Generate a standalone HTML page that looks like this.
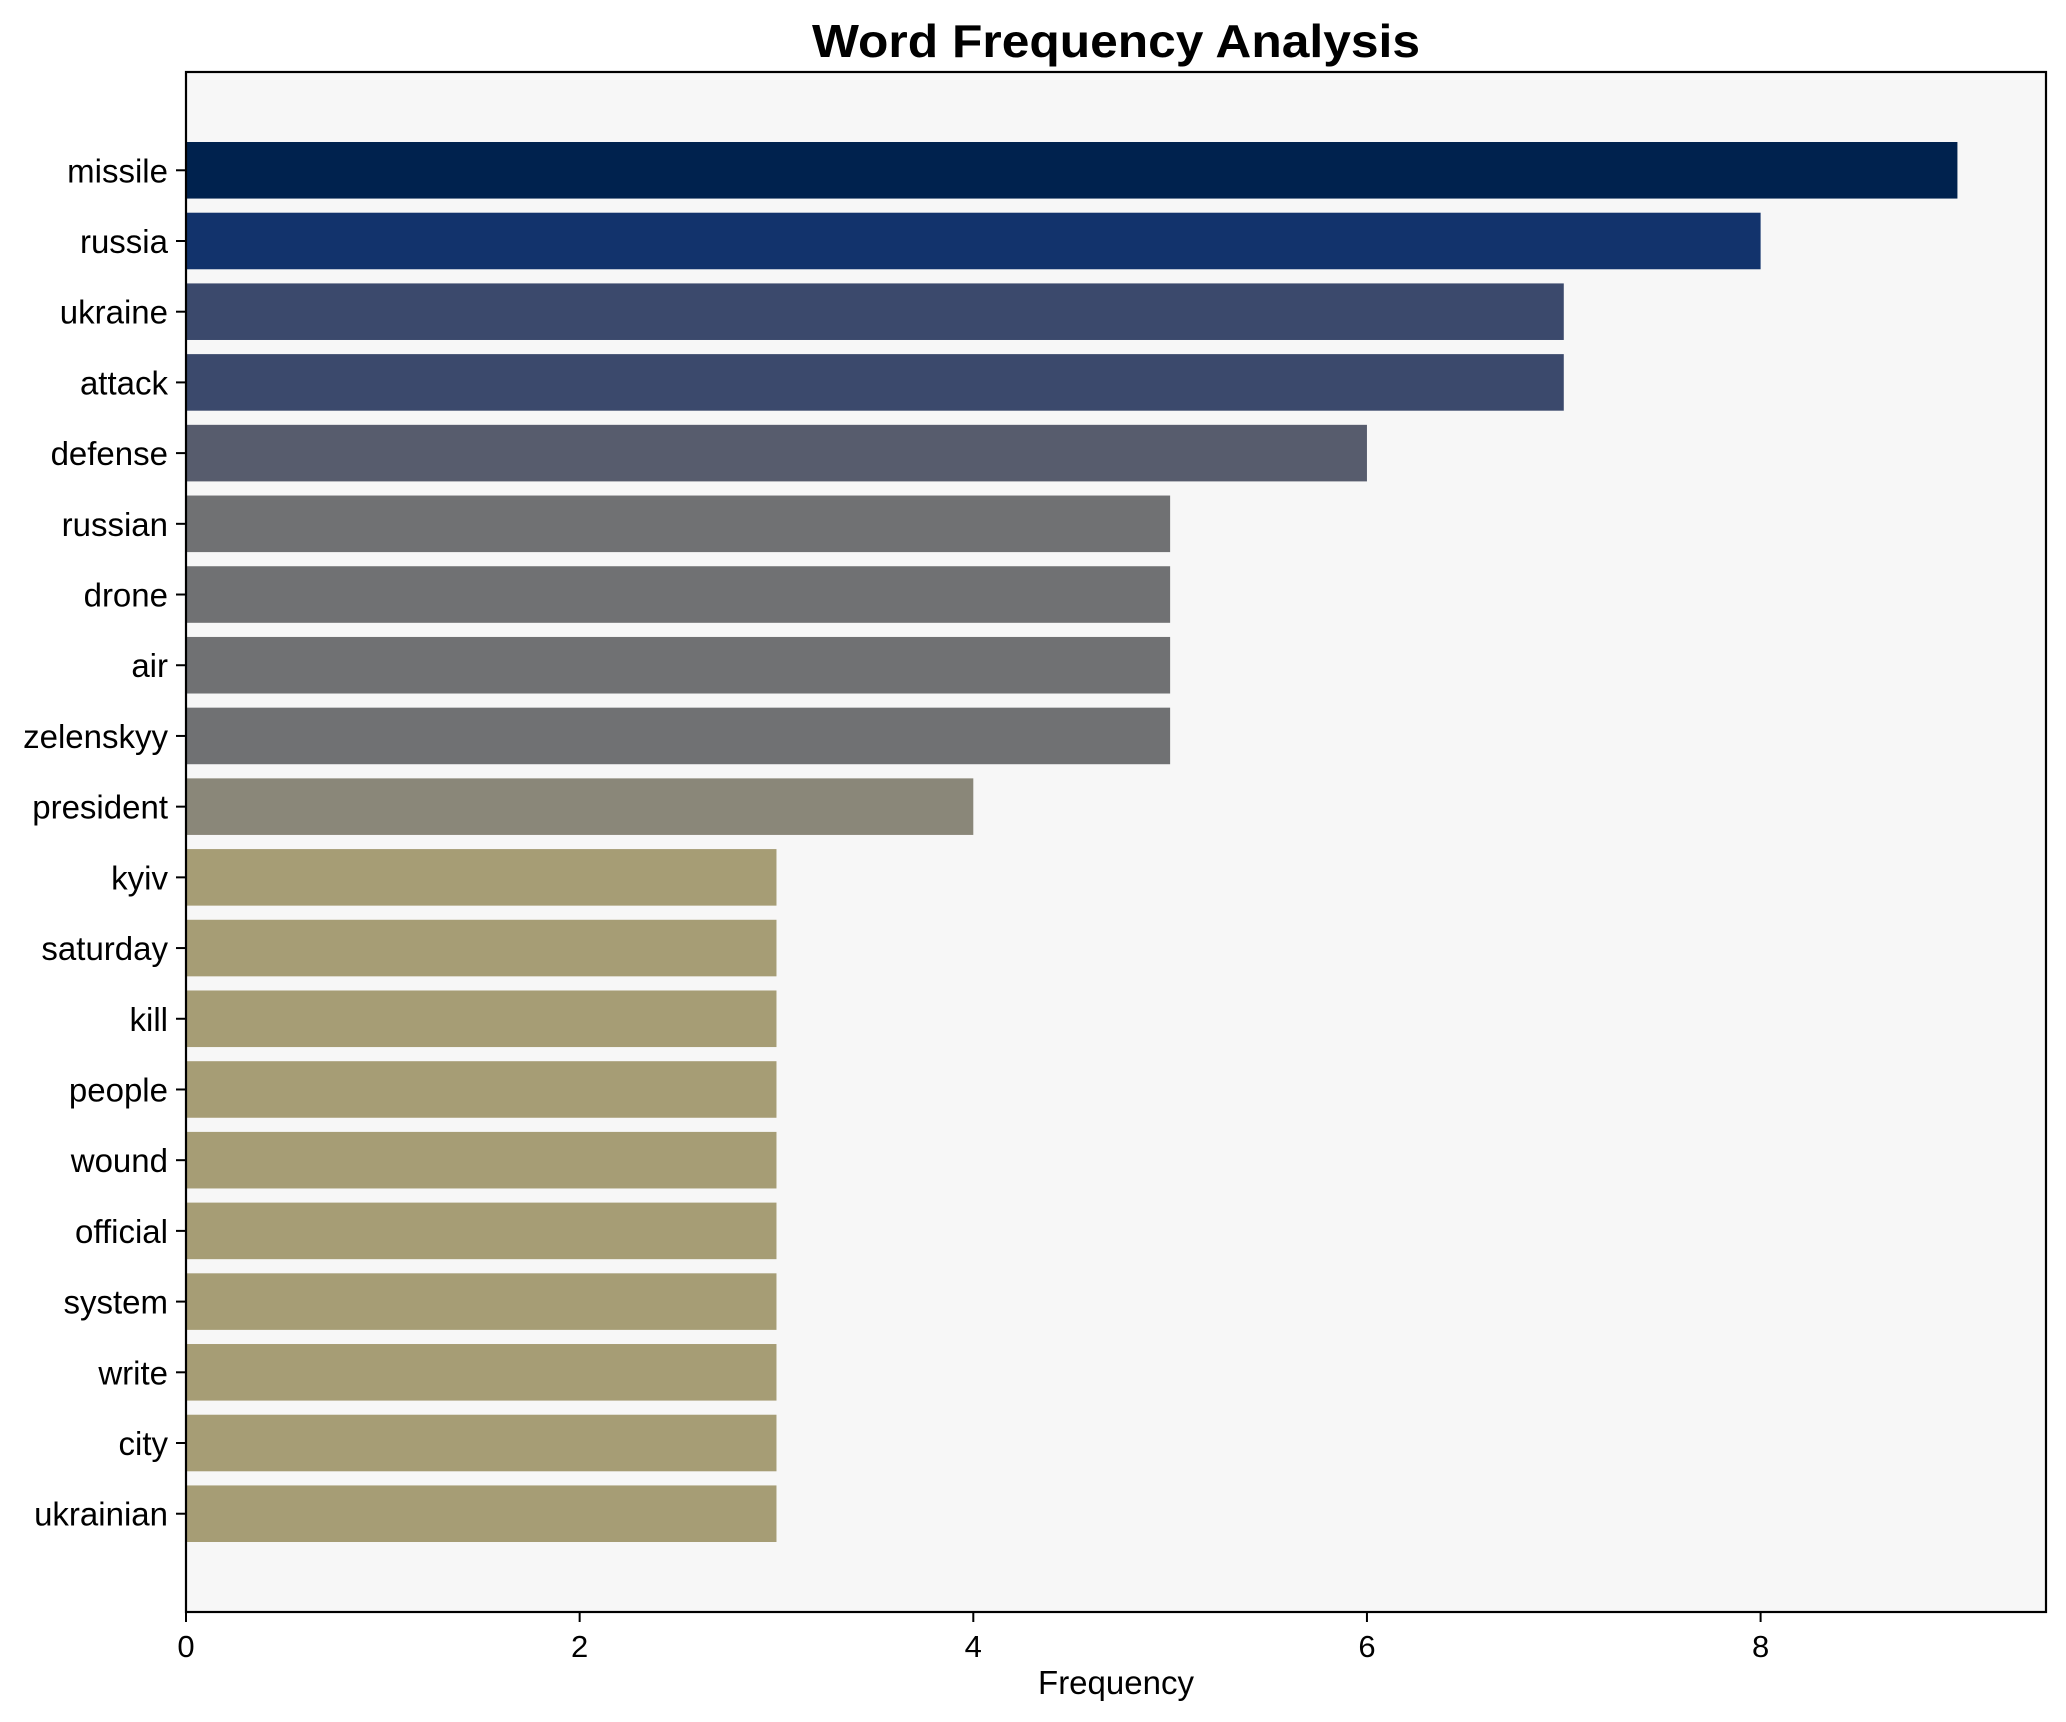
<!DOCTYPE html>
<html><head><meta charset="utf-8"><style>
html,body{margin:0;padding:0;background:#fff;}
svg{display:block;font-family:"Liberation Sans",Arial,sans-serif;}
</style></head><body>
<svg id="chart" width="2066" height="1722" viewBox="0 0 2066 1722" xmlns="http://www.w3.org/2000/svg">
<rect x="0" y="0" width="2066" height="1722" fill="#ffffff"/>
<rect x="186" y="72" width="1860" height="1540" fill="#f7f7f7"/>
<g id="bars"></g>
<g id="yticks"></g>
<g id="xticks"></g>
<rect x="186" y="72" width="1860" height="1540" fill="none" stroke="#000" stroke-width="2.2"/>
<text x="1116" y="57" text-anchor="middle" font-size="46" font-weight="bold" textLength="608" lengthAdjust="spacingAndGlyphs">Word Frequency Analysis</text>
<text x="1116" y="1694" text-anchor="middle" font-size="33">Frequency</text>
</svg>
<script>
const words = ["missile","russia","ukraine","attack","defense","russian","drone","air","zelenskyy","president","kyiv","saturday","kill","people","wound","official","system","write","city","ukrainian"];
const counts = [9,8,7,7,6,5,5,5,5,4,3,3,3,3,3,3,3,3,3,3];
const xTicks = [0,2,4,6,8];
const colorByValue = {9:"#00224e",8:"#12336c",7:"#3b496c",6:"#575c6d",5:"#707173",4:"#8a8779",3:"#a69d75"};

const NS = "http://www.w3.org/2000/svg";
const L = 186, R = 2046, T = 72, B = 1612;
const xMax = Math.max(...counts) * 1.05;
function xScale(v){ return L + (v / xMax) * (R - L); }
const n = words.length;
const yRange = (n - 1 + 0.8) * 1.1;
function yScale(i){ const top = -0.4 - 0.05 * (n - 1 + 0.8); return T + ((i - top) / yRange) * (B - T); }
const bandPx = (B - T) / yRange;

const gb = document.getElementById('bars');
const gy = document.getElementById('yticks');
const gx = document.getElementById('xticks');
function mk(tag, attrs){ const e = document.createElementNS(NS, tag); for (const k in attrs) e.setAttribute(k, attrs[k]); return e; }

words.forEach((w, i) => {
  const cy = yScale(i);
  const r = mk('rect', {x: xScale(0), y: cy - 0.4 * bandPx, width: xScale(counts[i]) - xScale(0), height: 0.8 * bandPx, fill: colorByValue[counts[i]] || "#a69d75"});
  
  
  gb.appendChild(r);
  const t = mk('line', {x1: L - 10, x2: L, y1: cy, y2: cy, stroke: '#000', 'stroke-width': 2});
  
  
  gy.appendChild(t);
  const lbl = mk('text', {x: L - 18, y: cy + 12, 'text-anchor': 'end', 'font-size': 33});
  lbl.textContent = w;
  
  
  gy.appendChild(lbl);
});
xTicks.forEach(v => {
  const x = xScale(v);
  const t = mk('line', {x1: x, x2: x, y1: B, y2: B + 10, stroke: '#000', 'stroke-width': 2});
  
  
  gx.appendChild(t);
  const lbl = mk('text', {x: x, y: B + 45, 'text-anchor': 'middle', 'font-size': 31});
  lbl.textContent = v;
  
  
  gx.appendChild(lbl);
});
</script>
</body></html>
